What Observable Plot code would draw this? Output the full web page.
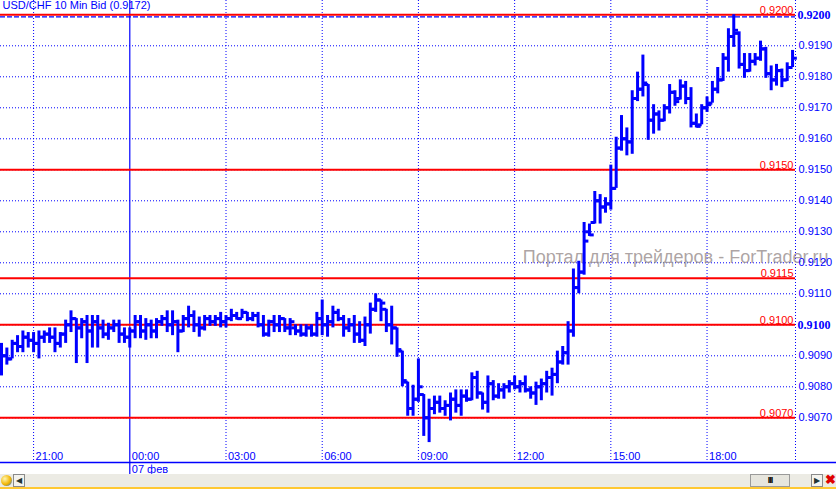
<!DOCTYPE html>
<html><head><meta charset="utf-8">
<script src="https://cdn.jsdelivr.net/npm/d3@7"></script>
<script src="https://cdn.jsdelivr.net/npm/@observablehq/plot@0.6"></script>
<style>
html,body{margin:0;padding:0;background:#fff;overflow:hidden;}
#chart svg{display:block;}
.sb{position:relative;width:836px;height:13px;background:#ecebe4;border-bottom:2px solid #ffc832;font-family:"Liberation Sans",Arial,sans-serif;}
.sb .ico{position:absolute;left:1px;top:1px;width:11px;height:11px;border-radius:50%;background:radial-gradient(circle at 35% 35%,#fff6b0,#f2b400 55%,#3a78c8 90%);}
.sb .btn{position:absolute;top:0px;width:10px;height:11px;border:1px solid #8a8a8a;background:#f4f3ee;font-size:8px;line-height:11px;text-align:center;color:#233;}
.sb .thumb{position:absolute;left:750px;top:0px;width:38px;height:11px;border:1px solid #9a9a9a;background:#e6e5de;font-size:9px;line-height:11px;text-align:center;font-weight:bold;color:#000;letter-spacing:-1px;}
.sb .x{position:absolute;left:825px;top:0px;width:11px;height:12px;color:#e00000;font-weight:bold;font-size:13px;line-height:12px;text-align:center;}
</style></head><body>
<div id="chart"></div>
<div class="sb"><div class="ico"></div><div class="btn" style="left:13px">&#9664;</div><div class="thumb">III</div><div class="btn" style="left:811px">&#9654;</div><div class="x">&#10006;</div></div>
<script>
// ---- data (USD/CHF, 10-minute bars, starting 06 Feb 20:00) ----
const title = "USD/CHF 10 Min Bid (0.9172)";
const firstBar = "2011-02-06T20:00:00Z";
const barMinutes = 10;
const high = [.9094,.90925,.9095,.90965,.9098,.90975,.90975,.9098,.9098,.9099,.9099,.90975,.91015,.91045,.9102,.9102,.9103,.9103,.9103,.91015,.91005,.91015,.91015,.9099,.9099,.9103,.9103,.9102,.91015,.9102,.9103,.91045,.91045,.91015,.9103,.9106,.91045,.91025,.9103,.9103,.9103,.9104,.9103,.9105,.9104,.9105,.9104,.9104,.9104,.9103,.91015,.9103,.9103,.9102,.9102,.9100,.9100,.9100,.9100,.9104,.9108,.9103,.9106,.9105,.9103,.9102,.9103,.9101,.91025,.9107,.9110,.9108,.9105,.9106,.9099,.90915,.90815,.90805,.9089,.90775,.9076,.9077,.9077,.90755,.9078,.9079,.9079,.9079,.90845,.9085,.9078,.90835,.9082,.9081,.9081,.9082,.90835,.9082,.90835,.9080,.90815,.90825,.9085,.9086,.90915,.9093,.9101,.9118,.91205,.9133,.91325,.9143,.9142,.9141,.91515,.91605,.91675,.91635,.91755,.91815,.9187,.91775,.9171,.9169,.9171,.91775,.91755,.9179,.91785,.91765,.9168,.9171,.91735,.91785,.9183,.91875,.91955,.9200,.91945,.91875,.91875,.91875,.91915,.91895,.91835,.9184,.91825,.91845,.91885];
const low = [.90835,.9087,.9089,.9091,.9091,.90925,.9091,.9089,.9094,.9094,.9091,.90925,.9094,.90975,.90875,.90955,.90875,.90925,.90925,.90955,.9095,.90975,.9094,.9094,.90925,.90955,.90955,.9095,.90955,.90955,.90995,.90975,.90965,.9091,.90975,.9099,.90975,.9096,.9098,.90995,.90995,.9099,.9099,.9101,.91015,.9102,.9101,.9101,.9099,.9096,.9096,.90975,.90975,.90975,.90965,.90965,.9096,.9096,.9096,.9096,.90965,.9096,.9099,.9101,.9096,.90975,.9094,.9094,.9093,.9097,.9104,.9101,.90975,.90935,.90895,.9080,.90705,.90705,.9075,.9064,.9062,.9071,.90715,.90705,.9069,.90715,.90705,.9075,.90755,.9076,.90725,.90715,.90755,.9076,.9076,.9078,.9079,.9078,.9078,.9076,.9074,.90755,.9078,.9077,.9081,.9087,.9087,.9096,.9110,.9116,.91285,.91325,.91325,.9136,.9137,.9144,.9156,.91545,.9155,.9172,.91735,.91595,.91615,.91625,.91655,.9168,.91705,.91725,.9171,.91635,.91635,.91645,.91685,.91715,.91745,.91785,.91815,.91895,.91825,.91795,.91815,.91835,.9185,.91795,.91755,.9177,.91765,.91785,.9183];
const open = [.9086,.9090,.9089,.9094,.9093,.9096,.9095,.9094,.9096,.9097,.9096,.9094,.9097,.9100,.9102,.9099,.9101,.9098,.9101,.9099,.9097,.9099,.9100,.9097,.9096,.9098,.9101,.9098,.9100,.9098,.9101,.9102,.9100,.9101,.9098,.9102,.9103,.9100,.9099,.9102,.9101,.9102,.9101,.9102,.9103,.9102,.9104,.9102,.9103,.9100,.9097,.9101,.9100,.9102,.9099,.9099,.9098,.9097,.9099,.9097,.9102,.9100,.9101,.9104,.9102,.9099,.9100,.9097,.9095,.9100,.9105,.9108,.9105,.9100,.9099,.90915,.90815,.9073,.9076,.90775,.9070,.9073,.9075,.9073,.9074,.9076,.9074,.9077,.9076,.9083,.9078,.9075,.9081,.9077,.9079,.9080,.9081,.9080,.9081,.9079,.9078,.9080,.9081,.9083,.9084,.9088,.9091,.9098,.9112,.9117,.9130,.9133,.9140,.9138,.9139,.9144,.9157,.9160,.9159,.9173,.9176,.91775,.9166,.9168,.9166,.9170,.9175,.9173,.9177,.9173,.9165,.91645,.9170,.91715,.9176,.9179,.9186,.9193,.9194,.9184,.9182,.9185,.9186,.9189,.9181,.9179,.9182,.9179,.9183];
const close = [.9090,.9089,.9094,.9093,.9096,.9095,.9094,.9096,.9097,.9096,.9094,.9097,.9100,.9102,.9099,.9101,.9098,.9101,.9099,.9097,.9099,.9100,.9097,.9096,.9098,.9101,.9098,.9100,.9098,.9101,.9102,.9100,.9101,.9098,.9102,.9103,.9100,.9099,.9102,.9101,.9102,.9101,.9102,.9103,.9102,.9104,.9102,.9103,.9100,.9097,.9101,.9100,.9102,.9099,.9101,.9098,.9097,.9099,.9097,.9102,.9100,.9101,.9104,.9102,.9099,.9100,.9097,.9095,.9100,.9105,.9108,.9107,.9100,.9099,.9092,.9082,.9073,.9076,.9080,.9070,.9073,.9075,.9073,.9074,.9076,.9074,.9077,.9076,.9083,.9078,.9075,.9081,.9077,.9079,.9080,.9081,.9080,.9081,.9079,.9078,.9080,.9081,.9083,.9084,.9088,.9091,.9098,.9112,.9117,.9127,.9129,.9140,.9138,.9139,.9144,.9157,.9160,.9159,.9173,.9176,.9178,.9166,.9168,.9166,.9170,.9175,.9172,.9177,.9173,.9165,.9164,.9170,.9171,.9176,.9179,.9186,.9193,.9195,.9184,.9182,.9185,.9186,.9189,.9181,.9179,.9182,.9179,.9183,.9186];
// horizontal levels (red lines) and price grid
const levels = [0.9200, 0.9150, 0.9115, 0.9100, 0.9070];
const priceTicks = [0.9070,0.9080,0.9090,0.9100,0.9110,0.9120,0.9130,0.9140,0.9150,0.9160,0.9170,0.9180,0.9190,0.9200];
const boldTicks = [0.9200, 0.9100];
// time axis
const timeTicks = ["2011-02-06T21:00:00Z","2011-02-07T00:00:00Z","2011-02-07T03:00:00Z","2011-02-07T06:00:00Z","2011-02-07T09:00:00Z","2011-02-07T12:00:00Z","2011-02-07T15:00:00Z","2011-02-07T18:00:00Z"];
const timeLabels = ["21:00","00:00","03:00","06:00","09:00","12:00","15:00","18:00"];
const dayStart = "2011-02-07T00:00:00Z";
const dayLabel = "07 фев";
const watermark = "Портал для трейдеров - ForTrader.ru";

// ---- build ----
const MIN = 60000;
const t0 = new Date(firstBar).getTime();
const bars = high.map((h, i) => ({t: new Date(t0 + i * barMinutes * MIN), high: h, low: low[i], open: open[i], close: close[i]}));
const xDomain = [new Date(new Date(dayStart).getTime() - 241.9 * MIN), new Date(new Date(dayStart).getTime() + 1245.5 * MIN)];
const yDomain = [0.905558, 0.920461];
const blue = "#0000ff", red = "#ff0000";
const ticksData = timeTicks.map((s, i) => ({t: new Date(s), label: timeLabels[i]}));
const midnight = new Date(dayStart);
const fmt = d3.format(".4f");
const tickOff = 8 * MIN;

const chart = Plot.plot({
  width: 836, height: 474,
  marginTop: 0, marginLeft: 0, marginRight: 41, marginBottom: 12,
  style: {fontFamily: "'Liberation Sans', Arial, sans-serif", fontSize: "11px", background: "#fff", overflow: "visible"},
  x: {type: "utc", domain: xDomain, axis: null},
  y: {domain: yDomain, axis: null},
  marks: [
    Plot.ruleY(priceTicks.filter(v => v !== 0.9200), {stroke: blue, strokeWidth: 1, strokeDasharray: "1,2"}),
    Plot.ruleX(ticksData.filter(d => d.label !== "00:00"), {x: "t", stroke: blue, strokeWidth: 1, strokeDasharray: "1,2"}),
    Plot.ruleX([xDomain[1]], {stroke: blue, strokeWidth: 1, strokeDasharray: "1,2"}),
    Plot.ruleX([midnight], {stroke: blue, strokeWidth: 1.2, insetBottom: -12}),
    Plot.ruleY([0.9200], {stroke: blue, strokeWidth: 1.2, strokeDasharray: "5,2", dy: 2}),
    Plot.ruleY(levels, {stroke: red, strokeWidth: 2}),
    Plot.ruleY([yDomain[0]], {stroke: blue, strokeWidth: 1.5, insetRight: -41}),
    // watermark (semi-transparent, behind the bars)
    Plot.text([watermark], {frameAnchor: "top-right", text: d => d, textAnchor: "end", lineAnchor: "bottom", dx: 33, dy: 262, fill: "#9e9494", fillOpacity: 0.85, fontSize: 18}),
    // OHLC bars
    Plot.ruleX(bars, {x: "t", y1: "low", y2: "high", stroke: blue, strokeWidth: 3}),
    Plot.link(bars, {x1: d => new Date(d.t.getTime() - tickOff), x2: "t", y1: "open", y2: "open", stroke: blue, strokeWidth: 3}),
    Plot.link(bars, {x1: "t", x2: d => new Date(d.t.getTime() + tickOff), y1: "close", y2: "close", stroke: blue, strokeWidth: 3}),
    // level labels
    Plot.text(levels, {x: xDomain[1], y: d => d, text: d => fmt(d), textAnchor: "end", lineAnchor: "bottom", dx: -2, dy: -1, fill: red, fontSize: 11}),
    // right price axis labels
    Plot.text(priceTicks.filter(v => !boldTicks.includes(v)), {x: xDomain[1], y: d => d, text: d => fmt(d), textAnchor: "start", dx: 3, fill: blue, fontSize: 11}),
    Plot.text(boldTicks, {x: xDomain[1], y: d => d, text: d => fmt(d), textAnchor: "start", dx: 2, fill: blue, fontSize: 12, fontWeight: "bold", fontFamily: "'Liberation Serif', 'Times New Roman', serif"}),
    // time labels
    Plot.text(ticksData, {x: "t", y: yDomain[0], text: "label", textAnchor: "start", dx: 2, dy: -6, fill: blue, fontSize: 11}),
    Plot.text([dayLabel], {x: midnight, y: yDomain[0], text: d => d, textAnchor: "start", dx: 2, dy: 7, fill: blue, fontSize: 11}),
    // title
    Plot.text([title], {frameAnchor: "top-left", text: d => d, textAnchor: "start", lineAnchor: "top", dx: 2, dy: 1, fill: blue, fontSize: 11})
  ]
});
document.getElementById("chart").appendChild(chart);
</script>
</body></html>
